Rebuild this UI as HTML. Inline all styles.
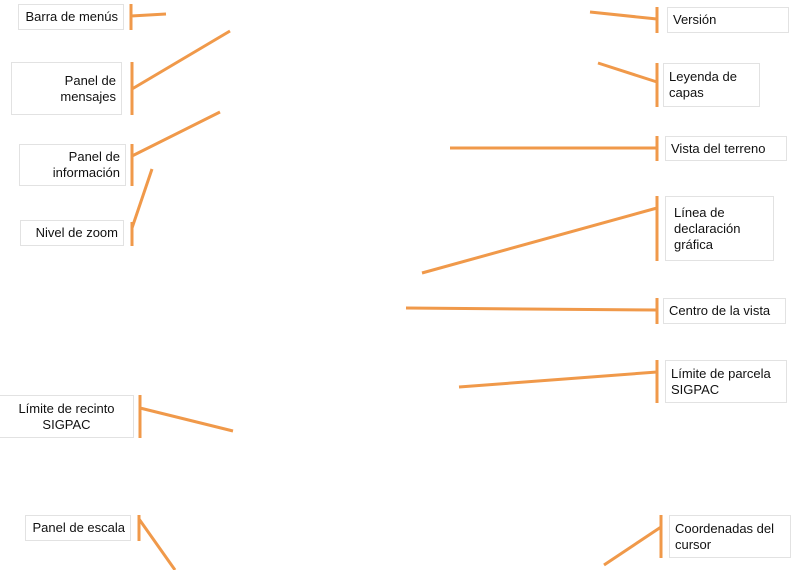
<!DOCTYPE html>
<html><head><meta charset="utf-8"><style>
body{margin:0;width:792px;height:570px;background:#fff;position:relative;overflow:hidden;font-family:"Liberation Sans",sans-serif;font-size:13px;color:#111}
.b{position:absolute;border:1px solid #e2e2e2;box-sizing:border-box;line-height:16px;display:flex;flex-direction:column;justify-content:center;padding:0 5px;white-space:nowrap}
.r{text-align:right;align-items:flex-end}
svg{position:absolute;left:0;top:0}
</style></head><body>
<div class="b r" style="left:18px;top:4px;width:106px;height:26px">Barra de menús</div>
<div class="b r" style="left:11px;top:62px;width:111px;height:53px">Panel de<br>mensajes</div>
<div class="b r" style="left:19px;top:144px;width:107px;height:42px">Panel de<br>información</div>
<div class="b r" style="left:20px;top:220px;width:104px;height:26px">Nivel de zoom</div>
<div class="b r" style="left:-1px;top:395px;width:135px;height:43px;text-align:center;align-items:center">Límite de recinto<br>SIGPAC</div>
<div class="b r" style="left:25px;top:515px;width:106px;height:26px">Panel de escala</div>
<div class="b" style="left:667px;top:7px;width:122px;height:26px">Versión</div>
<div class="b" style="left:663px;top:63px;width:97px;height:44px">Leyenda de<br>capas</div>
<div class="b" style="left:665px;top:136px;width:122px;height:25px">Vista del terreno</div>
<div class="b" style="left:665px;top:196px;width:109px;height:65px;padding-left:8px">Línea de<br>declaración<br>gráfica</div>
<div class="b" style="left:663px;top:298px;width:123px;height:26px">Centro de la vista</div>
<div class="b" style="left:665px;top:360px;width:122px;height:43px">Límite de parcela<br>SIGPAC</div>
<div class="b" style="left:669px;top:515px;width:122px;height:43px">Coordenadas del<br>cursor</div>
<svg width="792" height="570" stroke="#f0994a" stroke-width="3" fill="none">
<path d="M131 4V30M131 16L166 14"/>
<path d="M132 62V115M132 89L230 31"/>
<path d="M132 144V186M132 156L220 112"/>
<path d="M132 222V246M132 228L152 169"/>
<path d="M140 395V438M140 408L233 431"/>
<path d="M139 515V541M139 519L175 570"/>
<path d="M657 7V33M590 12L657 19"/>
<path d="M657 63V107M598 63L657 82"/>
<path d="M657 136V161M450 148L657 148"/>
<path d="M657 196V261M422 273L657 208"/>
<path d="M657 298V324M406 308L657 310"/>
<path d="M657 360V403M459 387L657 372"/>
<path d="M661 515V558M604 565L661 527"/>
</svg>
</body></html>
